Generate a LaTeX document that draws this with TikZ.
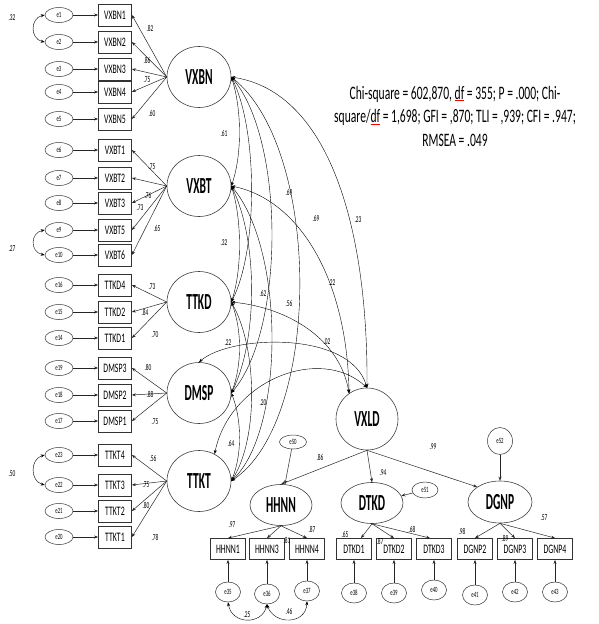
\documentclass[tikz,border=0pt]{standalone}
\usepackage{fontspec}
\setmainfont{Carlito}
\usepackage{graphicx}
\usetikzlibrary{shapes.geometric,arrows.meta}
\newcommand{\hsq}[2]{\scalebox{#1}[1]{#2}}
\begin{document}
\begin{tikzpicture}[x=1pt,y=-1pt,
  fac/.style={ellipse,draw=black!75,line width=0.6pt,minimum width=64pt,minimum height=61pt,inner sep=0pt,font=\fontsize{23}{23}\selectfont\bfseries},
  fac2/.style={ellipse,draw=black!75,line width=0.6pt,minimum width=62pt,minimum height=41pt,inner sep=0pt,font=\fontsize{23}{23}\selectfont\bfseries},
  ind/.style={rectangle,draw=black!80,line width=0.8pt,minimum width=33pt,minimum height=22pt,inner sep=0pt,font=\fontsize{13}{13}\selectfont},
  err/.style={ellipse,draw=black!80,line width=0.5pt,minimum width=28pt,minimum height=15pt,inner sep=0pt,font=\fontsize{8}{8}\selectfont},
  berr/.style={ellipse,draw=black!80,line width=0.5pt,minimum width=25pt,minimum height=20pt,inner sep=0pt,font=\fontsize{8}{8}\selectfont},
  lab/.style={inner sep=0pt,font=\fontsize{9}{9}\selectfont},
  arr/.style={-{Stealth[length=4pt,width=3pt]},line width=0.5pt,black!85},
  cov/.style={{Stealth[length=4pt,width=3pt]}-{Stealth[length=4pt,width=3pt]},line width=0.4pt}]
\useasboundingbox[fill=white] (0,0) rectangle (598,624);

% latent factors
\node[fac] (VXBN) at (199,77) {\hsq{0.5}{VXBN}};
\node[fac] (VXBT) at (199,186) {\hsq{0.5}{VXBT}};
\node[fac] (TTKD) at (199,302) {\hsq{0.5}{TTKD}};
\node[fac] (DMSP) at (199,393) {\hsq{0.5}{DMSP}};
\node[fac] (TTKT) at (199,481) {\hsq{0.5}{TTKT}};
\node[fac,minimum width=62pt,minimum height=62pt] (VXLD) at (367,419) {\hsq{0.5}{VXLD}};
\node[fac2] (HHNN) at (281,505) {\hsq{0.5}{HHNN}};
\node[fac2] (DTKD) at (372,503) {\hsq{0.5}{DTKD}};
\node[fac2,minimum width=64pt,minimum height=42pt] (DGNP) at (500,502) {\hsq{0.5}{DGNP}};

% left indicators and errors
\foreach \n/\y/\e in {VXBN1/15/e1, VXBN2/42/e2, VXBN3/69/e3, VXBN4/92/e4, VXBN5/119/e5,
  VXBT1/150/e6, VXBT2/178/e7, VXBT3/203/e8, VXBT5/230/e9, VXBT6/255/e10,
  TTKD4/285/e16, TTKD2/312/e15, TTKD1/338/e14,
  DMSP3/368/e19, DMSP2/395/e18, DMSP1/421/e17,
  TTKT4/455/e23, TTKT3/485/e22, TTKT2/511/e21, TTKT1/537/e20}{
  \node[ind] (\n) at (115,\y) {\hsq{0.6}{\n}};
  \node[err] (\e) at (59,\y) {\hsq{0.6}{\e}};
  \draw[arr] (\e) -- (\n);
}
\foreach \f/\n in {VXBN/VXBN1,VXBN/VXBN2,VXBN/VXBN3,VXBN/VXBN4,VXBN/VXBN5,
  VXBT/VXBT1,VXBT/VXBT2,VXBT/VXBT3,VXBT/VXBT5,VXBT/VXBT6,
  TTKD/TTKD4,TTKD/TTKD2,TTKD/TTKD1,
  DMSP/DMSP3,DMSP/DMSP2,DMSP/DMSP1,
  TTKT/TTKT4,TTKT/TTKT3,TTKT/TTKT2,TTKT/TTKT1}{
  \draw[arr] (\f.west) -- (\n.east);
}
% error covariances left
\draw[cov] (e1.west) .. controls (30,18) and (30,39) .. (e2.west);
\draw[cov] (e9.west) .. controls (30,233) and (30,252) .. (e10.west);
\draw[cov] (e23.west) .. controls (30,459) and (30,481) .. (e22.west);
\node[lab] (l32) at (12,18) {\hsq{0.6}{.32}};
\node[lab] (l27) at (12,249) {\hsq{0.6}{.27}};
\node[lab] (l50) at (12,474) {\hsq{0.6}{.50}};

% loading labels left
\foreach \x/\y/\t in {150/28/.82,147/60/.86,147/80/.75,152/113/.60,
  152/167/.75,148/195/.76,140/208/.73,157/228/.65,
  152/287/.73,145/312/.84,155/335/.70,
  148/367/.80,150/394/.88,155/422/.75,
  153/458/.56,146/485/.75,146/505/.80,155/537/.78}{
  \node[lab] at (\x,\y) {\hsq{0.6}{\t}};
}

% covariances among factors
\draw[cov] (VXBN.east) .. controls (242,110) and (242,155) .. (VXBT.east);
\draw[cov] (VXBN.east) .. controls (258,130) and (258,250) .. (TTKD.east);
\draw[cov] (VXBN.east) .. controls (285,140) and (285,330) .. (DMSP.east);
\draw[cov] (VXBN.east) .. controls (322,150) and (322,420) .. (TTKT.east);
\draw[cov] (VXBN.east) .. controls (330,92) and (368,230) .. (VXLD.north);
\draw[cov] (VXBT.east) .. controls (242,220) and (242,270) .. (TTKD.east);
\draw[cov] (VXBT.east) .. controls (258,240) and (258,340) .. (DMSP.east);
\draw[cov] (VXBT.east) .. controls (285,250) and (285,430) .. (TTKT.east);
\draw[cov] (VXBT.east) .. controls (300,200) and (347,280) .. (VXLD.125);
\draw[cov] (TTKD.east) .. controls (242,330) and (242,365) .. (DMSP.east);
\draw[cov] (TTKD.east) .. controls (258,350) and (258,440) .. (TTKT.east);
\draw[cov] (TTKD.east) .. controls (290,308) and (340,340) .. (VXLD.125);
\draw[cov] (DMSP.east) .. controls (242,420) and (242,455) .. (TTKT.east);
\draw[cov] (DMSP.north) .. controls (230,335) and (350,330) .. (VXLD.north);
\draw[cov] (TTKT.60) .. controls (230,380) and (320,345) .. (VXLD.north);

\foreach \x/\y/\t in {224/133/.61,289/192/.69,316/218/.69,358/220/.23,224/243/.32,
  263/293/.62,289/303/.56,332/283/.22,228/343/.22,327/342/.02,263/403/.20,231/443/.64,
  320/457/.86,383/473/.94,433/447/.99}{
  \node[lab] at (\x,\y) {\hsq{0.6}{\t}};
}

% structural paths
\draw[arr] (VXLD.south) -- (HHNN.north);
\draw[arr] (VXLD.south) -- (DTKD.north);
\draw[arr] (VXLD.south) -- (DGNP.north west);
\node[err,minimum width=27pt,minimum height=14pt] (e50) at (293,442) {\hsq{0.6}{e50}};
\node[err,minimum width=26pt,minimum height=16pt] (e51) at (425,490) {\hsq{0.6}{e51}};
\node[err,minimum width=25pt,minimum height=27pt] (e52) at (500,441) {\hsq{0.6}{e52}};
\draw[arr] (e50) -- (HHNN);
\draw[arr] (e51) -- (DTKD);
\draw[arr] (e52) -- (DGNP);

% bottom indicators
\foreach \n/\x/\e/\ey in {HHNN1/228/e35/592, HHNN3/267/e36/594, HHNN4/307/e37/591,
  DTKD1/354/e38/593, DTKD2/394/e39/593, DTKD3/434/e40/590,
  DGNP2/475/e41/595, DGNP3/515/e42/592, DGNP4/555/e43/592}{
  \node[ind,minimum width=35pt,minimum height=21pt] (\n) at (\x,549) {\hsq{0.6}{\n}};
  \node[berr] (\e) at (\x,\ey) {\hsq{0.6}{\e}};
  \draw[arr] (\e) -- (\n);
}
\draw[arr] (HHNN.south) -- (HHNN1.north);
\draw[arr] (HHNN.south) -- (HHNN3.north);
\draw[arr] (HHNN.south) -- (HHNN4.north);
\draw[arr] (DTKD.south) -- ([xshift=7pt]DTKD1.north);
\draw[arr] (DTKD.south) -- (DTKD2.north);
\draw[arr] (DTKD.south) -- ([xshift=-4pt]DTKD3.north);
\draw[arr] (DGNP.south) -- (DGNP2.north);
\draw[arr] (DGNP.south) -- (DGNP3.north);
\draw[arr] (DGNP.south) -- (DGNP4.north);
\draw[cov] (e35.south) .. controls (232,625) and (262,625) .. (e36.south);
\draw[cov] (e36.south) .. controls (274,625) and (306,625) .. (e37.south);
\foreach \x/\y/\t in {232/525/.97,287/540/.81,312/529/.87,345/534/.65,380/541/.87,412/529/.68,
  462/531/.98,505/538/.89,544/518/.57,247/615/.25,289/611/.46}{
  \node[lab] at (\x,\y) {\hsq{0.6}{\t}};
}

% fit text
\node[xscale=0.61,transform shape,align=center,font=\fontsize{19}{23.5}\selectfont] (fit) at (455,116)
 {Chi-square = 602,870, \textcolor{red}{\underline{\textcolor{black}{df}}} = 355; P = .000; Chi-\\
  square/\textcolor{red}{\underline{\textcolor{black}{df}}} = 1,698; GFI = ,870; TLI = ,939; CFI = .947;\\
  RMSEA = .049};
\end{tikzpicture}
\end{document}
